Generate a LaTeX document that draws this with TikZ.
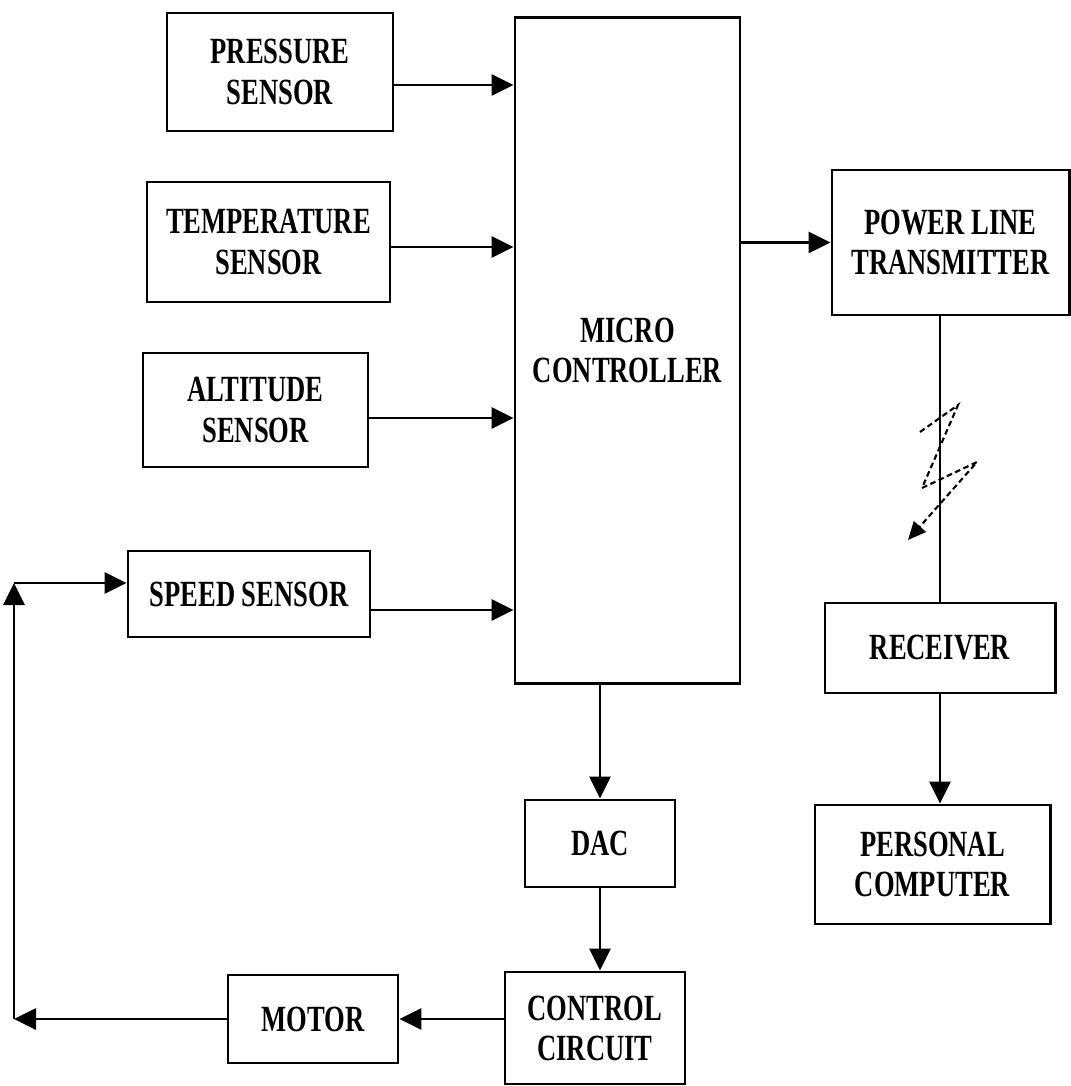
\documentclass[tikz,border=0pt]{standalone}
\usepackage{fontspec}
\usepackage{tikz}
\usetikzlibrary{arrows.meta, positioning, calc}
\newfontfamily\blockfont{Liberation Serif}[FakeStretch=0.72]

\begin{document}
\begin{tikzpicture}[x=0.01cm, y=-0.01cm,
    blk/.style={draw, line width=0.8pt, align=center, inner sep=0pt,
                font=\blockfont\bfseries\fontsize{10.5}{11.4}\selectfont},
    arr/.style={-{Triangle[length=2.2mm, width=2.1mm]}, line width=0.8pt},
    zap/.style={-{Triangle[length=1.8mm, width=1.6mm]}, line width=0.6pt,
                dash pattern=on 1.6pt off 1pt},
]
    \useasboundingbox (0,0) rectangle (1071,1086);

    % Sensors
    \node[blk, minimum width=2.26cm, minimum height=1.18cm] (pres) at (280, 72) {PRESSURE\\SENSOR};
    \node[blk, minimum width=2.43cm, minimum height=1.2cm] (temp) at (268.5, 242) {TEMPERATURE\\SENSOR};
    \node[blk, minimum width=2.25cm, minimum height=1.14cm] (alt) at (255.5, 410) {ALTITUDE\\SENSOR};
    \node[blk, minimum width=2.42cm, minimum height=0.86cm] (speed) at (249, 594) {SPEED SENSOR};

    % Controller and output chain
    \node[blk, minimum width=2.25cm, minimum height=6.65cm] (mc) at (627.5, 350.5) {MICRO\\CONTROLLER};
    \node[blk, minimum width=1.5cm, minimum height=0.87cm] (dac) at (600, 843.5) {DAC};
    \node[blk, minimum width=1.8cm, minimum height=1.12cm] (cc) at (595, 1028) {CONTROL\\CIRCUIT};
    \node[blk, minimum width=1.7cm, minimum height=0.88cm] (motor) at (313, 1019) {MOTOR};

    % Transmission side
    \node[blk, minimum width=2.37cm, minimum height=1.45cm] (plt) at (950.5, 242.5) {POWER LINE\\TRANSMITTER};
    \node[blk, minimum width=2.3cm, minimum height=0.9cm] (rx) at (940, 648) {RECEIVER};
    \node[blk, minimum width=2.35cm, minimum height=1.19cm] (pc) at (932.5, 864.5) {PERSONAL\\COMPUTER};

    % Feedback corners
    \coordinate (lft) at (14, 1019);
    \coordinate (top) at (14, 583);

    % Sensor inputs
    \draw[arr] ([yshift=-1.3mm]pres.east) -- ([yshift=-1.3mm]pres.east -| mc.west);
    \draw[arr] ([yshift=-0.5mm]temp.east) -- ([yshift=-0.5mm]temp.east -| mc.west);
    \draw[arr] ([yshift=-0.8mm]alt.east) -- ([yshift=-0.8mm]alt.east -| mc.west);
    \draw[arr] ([yshift=-1.6mm]speed.east) -- ([yshift=-1.6mm]speed.east -| mc.west);

    % Outputs
    \draw[arr] (plt.west -| mc.east) -- (plt.west);
    \draw[line width=0.8pt] (rx.north |- plt.south) -- (rx.north);
    \draw[arr] (rx.south) -- (rx.south |- pc.north);
    \draw[arr] (dac.north |- mc.south) -- (dac.north);
    \draw[arr] (dac.south) -- (dac.south |- cc.north);
    \draw[arr] (motor.east -| cc.west) -- (motor.east);

    % Speed feedback loop
    \draw[arr] (motor.west) -- (lft);
    \draw[arr] (lft) -- (top);
    \draw[arr] (top) -- (top -| speed.west);

    % Link symbol
    \draw[zap] (920,432) -- (958,405) -- (922,488) -- (977,462) -- (908,540);
\end{tikzpicture}
\end{document}
